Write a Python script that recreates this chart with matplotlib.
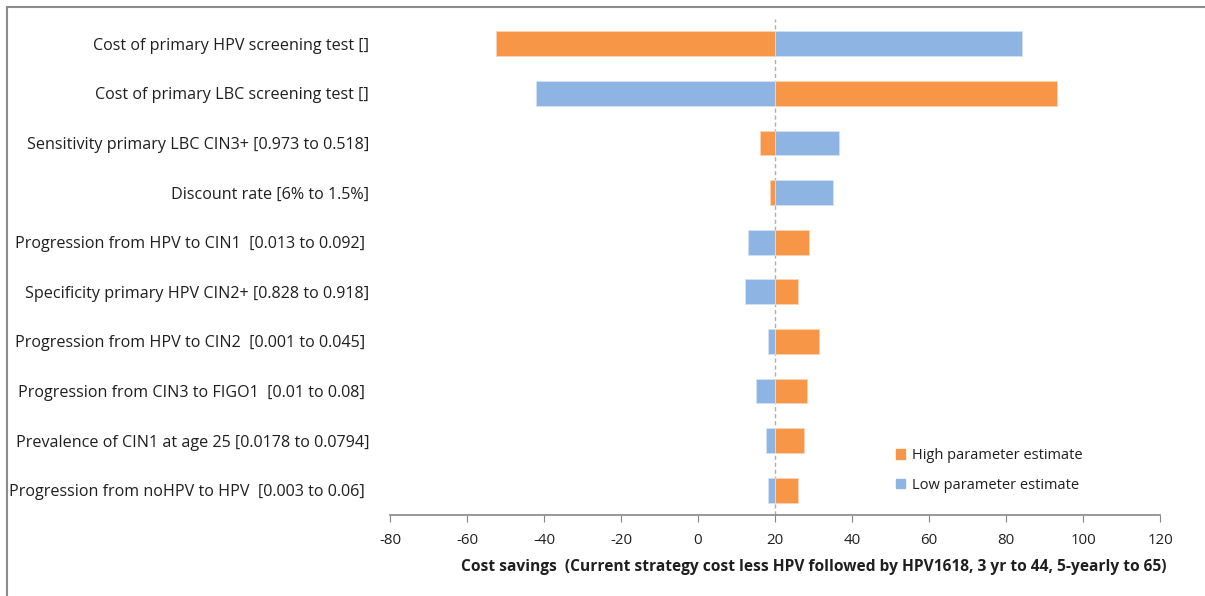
import matplotlib.pyplot as plt
from matplotlib.lines import Line2D
from matplotlib.patches import Patch
import numpy as np

# tornado data: cost savings at high / low parameter values, base case = 20
labels = [
    "Cost of primary HPV screening test []",
    "Cost of primary LBC screening test []",
    "Sensitivity primary LBC CIN3+ [0.973 to 0.518]",
    "Discount rate [6% to 1.5%]",
    "Progression from HPV to CIN1  [0.013 to 0.092] ",
    "Specificity primary HPV CIN2+ [0.828 to 0.918]",
    "Progression from HPV to CIN2  [0.001 to 0.045] ",
    "Progression from CIN3 to FIGO1  [0.01 to 0.08] ",
    "Prevalence of CIN1 at age 25 [0.0178 to 0.0794]",
    "Progression from noHPV to HPV  [0.003 to 0.06] ",
]
high_est = [-52.5, 93.2, 16.1, 18.6, 28.9, 26.0, 31.3, 28.4, 27.6, 26.0]
low_est = [84.2, -42.1, 36.6, 35.1, 13.0, 12.3, 18.1, 15.0, 17.7, 18.1]
base = 20
xticks = [-80, -60, -40, -20, 0, 20, 40, 60, 80, 100, 120]

orange = "#F79646"
blue = "#8DB4E2"
text_col = "#1F1F1F"
plt.rcParams["font.family"] = ["Open Sans", "DejaVu Sans"]
plt.rcParams["axes.unicode_minus"] = False

fig = plt.figure(figsize=(12.05, 5.96), dpi=100)
ax = fig.add_axes((390 / 1205, 1 - 515 / 596, 770 / 1205, 496 / 596))

y = np.arange(len(labels))
high = np.array(high_est) - base
low = np.array(low_est) - base
ax.barh(y, high, left=base, height=0.5, color=orange, edgecolor="#FBD3B5", linewidth=0.6)
ax.barh(y, low, left=base, height=0.5, color=blue, edgecolor="#D4E2F3", linewidth=0.6)

ax.axvline(base, color="#B0B0B0", linestyle=(0, (3, 2)), linewidth=1, zorder=0)

ax.set_ylim(len(labels) - 0.5, -0.5)
ax.set_xlim(-80, 120)
ax.set_xticks(xticks)
ax.set_yticks(y)
ax.set_yticklabels(labels, fontsize=11.6, color=text_col)
ax.tick_params(axis="y", length=0, pad=15)
ax.tick_params(axis="x", length=5, color="#868686", labelsize=10.8, labelcolor=text_col, pad=8)

for side in ("left", "right", "top"):
    ax.spines[side].set_visible(False)
ax.spines["bottom"].set_color("#868686")
ax.spines["bottom"].set_linewidth(1.2)

ax.set_xlabel("Cost savings  (Current strategy cost less HPV followed by HPV1618, 3 yr to 44, 5-yearly to 65)",
              fontsize=11.2, fontweight="bold", color=text_col)
ax.xaxis.set_label_coords((814 - 390) / 770, -0.088)

handles = [Patch(color=orange, label="High parameter estimate"),
           Patch(color=blue, label="Low parameter estimate")]
ax.legend(handles=handles, loc="center left", bbox_to_anchor=(0.64, 0.09), frameon=False,
          fontsize=10.5, handlelength=0.6, handleheight=0.6, handletextpad=0.5,
          labelspacing=1.0, labelcolor=text_col)

# thin outer frame on the left and top edges
fig.add_artist(Line2D([7 / 1205, 7 / 1205], [0, 1 - 7 / 596], color="#8C8C8C", linewidth=1.5))
fig.add_artist(Line2D([7 / 1205, 1], [1 - 7 / 596, 1 - 7 / 596], color="#8C8C8C", linewidth=1.5))

fig.savefig("out.png", dpi=100)
